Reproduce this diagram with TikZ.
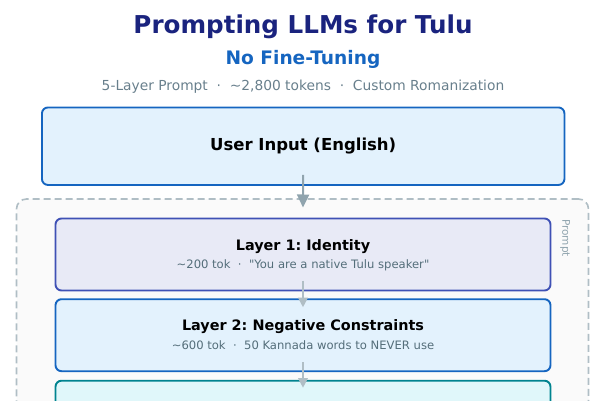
\documentclass[tikz,border=0pt]{standalone}
\usepackage{fontspec}
\setmainfont{DejaVu Sans}
\usepackage{tikz}
\usetikzlibrary{positioning,arrows.meta}
\frenchspacing

\definecolor{titlenavy}{HTML}{1A237E}
\definecolor{subblue}{HTML}{1565C0}
\definecolor{metagray}{HTML}{687F8C}
\definecolor{notegray}{HTML}{546E7A}
\definecolor{arrowgray}{HTML}{90A4AE}
\definecolor{arrowlight}{HTML}{B0BEC5}
\definecolor{framegray}{HTML}{B0BEC5}
\definecolor{framefill}{HTML}{FAFAFA}
\definecolor{inputfill}{HTML}{E3F2FD}
\definecolor{inputdraw}{HTML}{1565C0}
\definecolor{lonefill}{HTML}{E8EAF6}
\definecolor{lonedraw}{HTML}{3F51B5}
\definecolor{ltwofill}{HTML}{E3F2FD}
\definecolor{ltwodraw}{HTML}{1565C0}
\definecolor{lthreefill}{HTML}{E0F7FA}
\definecolor{lthreedraw}{HTML}{00838F}

\begin{document}
\begin{tikzpicture}[x=1pt,y=-1pt,
    box/.style={draw,line width=1.9pt,rounded corners=6pt,inner sep=0pt,outer sep=0pt},
    layerbox/.style={box,minimum width=495pt,minimum height=72pt},
    layertitle/.style={anchor=base,font=\fontsize{14.4}{17}\selectfont\bfseries},
    layernote/.style={anchor=base,text=notegray,font=\fontsize{11.6}{14}\selectfont},
    flow/.style={-{Triangle[length=9.5pt,width=9.5pt]},line width=1.8pt,arrowlight}]
    \useasboundingbox (0,0) rectangle (600,400);
    \clip (0,0) rectangle (600,400);
    % header
    \node[anchor=base,text=titlenavy,font=\fontsize{24.6}{30}\selectfont\bfseries] (title) at (303,33) {Prompting LLMs for Tulu};
    \node[anchor=base,text=subblue,font=\fontsize{18.6}{22}\selectfont\bfseries] (subtitle) at (303,64) {No Fine-Tuning};
    \node[anchor=base,text=metagray,font=\fontsize{13.8}{16}\selectfont] (meta) at (303,90)
        {5-Layer Prompt\ \ ·\ \ \textasciitilde2,800 tokens\ \ ·\ \ Custom Romanization};
    % input
    \node[box,fill=inputfill,draw=inputdraw,minimum width=522.5pt,minimum height=77.5pt,
        font=\fontsize{16.5}{20}\selectfont\bfseries] (user) at (303.2,146.2) {User Input (English)};
    % prompt frame
    \node[draw=framegray,fill=framefill,line width=1.6pt,dash pattern=on 7pt off 4pt,
        rounded corners=10pt,minimum width=572pt,minimum height=231pt,inner sep=0pt,outer sep=0pt] (prompt) at (302.5,314.5) {};
    \node[rotate=-90,text=arrowgray,font=\fontsize{10.5}{12}\selectfont] (promptlabel) at (565,238) {Prompt};
    % layers
    \foreach \n/\yc/\fc/\dc/\ttl/\note in {%
        lone/254.5/lonefill/lonedraw/{Layer 1: Identity}/{\textasciitilde200 tok\ \ ·\ \ \textquotedbl You are a native Tulu speaker\textquotedbl},%
        ltwo/335.2/ltwofill/ltwodraw/{Layer 2: Negative Constraints}/{\textasciitilde600 tok\ \ ·\ \ 50 Kannada words to NEVER use}}{
        \node[layerbox,fill=\fc,draw=\dc] (\n) at (303,\yc) {};
        \node[layertitle] (\n title) at ([yshift=4.5pt]\n.center) {\ttl};
        \node[layernote] (\n note) at ([yshift=-13.9pt]\n.center) {\note};
    }
    \node[layerbox,fill=lthreefill,draw=lthreedraw] (lthree) at (303,416.7) {};
    % arrows
    \draw[-{Triangle[length=13pt,width=12pt]},line width=2pt,arrowgray] ([yshift=10pt]user.south) -- ([yshift=11pt]lone.north);
    \draw[flow] ([yshift=10pt]lone.south) -- ([yshift=-8pt]ltwo.north);
    \draw[flow] ([yshift=9pt]ltwo.south) -- ([yshift=-7pt]lthree.north);
\end{tikzpicture}
\end{document}
